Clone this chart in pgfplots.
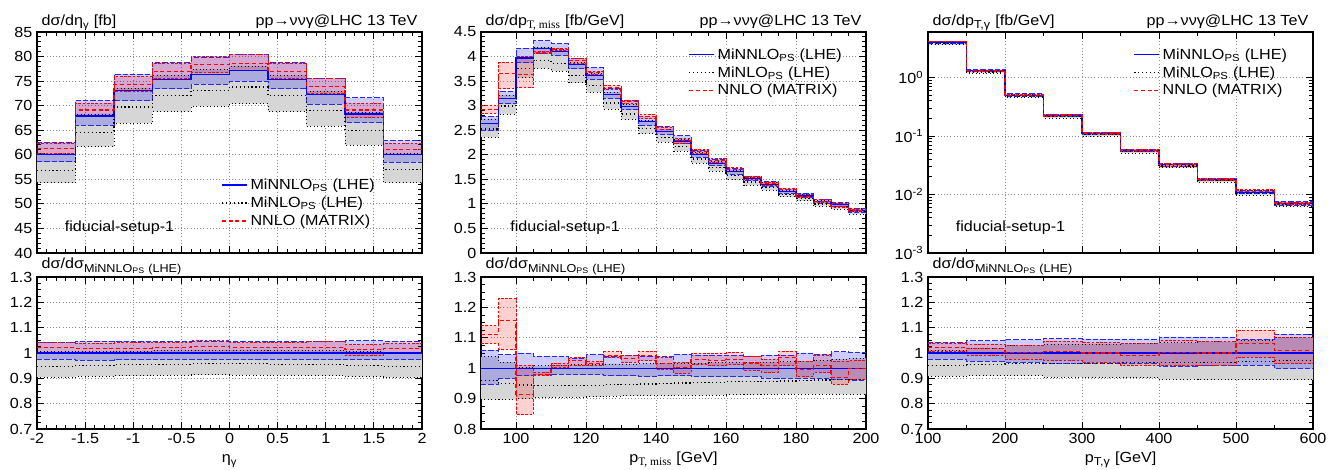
\documentclass[border=0pt]{standalone}
\usepackage{fontspec}
\setmainfont{Liberation Sans}[FakeStretch=1.1]
\newfontfamily\tms{Liberation Serif}
\usepackage{pgfplots}
\pgfplotsset{compat=1.18}
\usepackage{pgfplotstable}

\newcommand{\fs}{\fontsize{11pt}{13pt}\selectfont}
\newcommand{\sub}[1]{\textsubscript{\fontsize{8.6pt}{9pt}\selectfont #1}}

% columns: bin left edge, MiNNLO (c), MiNLO (n), NNLO MATRIX (r); last row closes the last bin
\pgfplotstableread{
x c clo chi n nlo nhi r rlo rhi
-2.0 60.0 58.56 62.52 56.82 54.30 60.30 61.32 60.24 62.40
-1.6 67.9 66.00 71.09 64.57 61.65 68.31 69.12 67.76 70.48
-1.2 73.0 71.03 76.43 69.72 66.43 73.58 74.31 72.93 75.92
-0.8 75.4 73.44 78.79 72.08 68.76 76.15 76.91 75.48 78.57
-0.4 76.4 74.41 79.84 73.11 69.83 77.32 78.31 76.71 80.07
0.0 77.1 75.02 80.49 73.78 70.39 78.03 78.64 77.10 80.34
0.4 75.4 73.44 78.79 72.01 68.76 76.15 76.98 75.55 78.64
0.8 72.3 70.35 75.48 69.05 65.87 72.95 73.89 72.52 75.48
1.2 68.3 66.52 71.58 65.02 61.95 68.71 69.12 67.55 70.49
1.6 60.1 58.54 62.86 56.97 54.33 60.28 61.12 60.04 62.26
2.0 60.1 58.54 62.86 56.97 54.33 60.28 61.12 60.04 62.26
}\etatop
% band outlines: lower edges left to right, then upper edges right to left
\pgfplotstableread{
x nb cb rb
-2.0 54.30 58.56 60.24
-1.6 61.65 66.00 67.76
-1.2 66.43 71.03 72.93
-0.8 68.76 73.44 75.48
-0.4 69.83 74.41 76.71
0.0 70.39 75.02 77.10
0.4 68.76 73.44 75.55
0.8 65.87 70.35 72.52
1.2 61.95 66.52 67.55
1.6 54.33 58.54 60.04
2.0 54.33 58.54 60.04
2.0 60.28 62.86 62.26
1.6 68.71 71.58 70.49
1.2 72.95 75.48 75.48
0.8 76.15 78.79 78.64
0.4 78.03 80.49 80.34
0.0 77.32 79.84 80.07
-0.4 76.15 78.79 78.57
-0.8 73.58 76.43 75.92
-1.2 68.31 71.09 70.48
-1.6 60.30 62.52 62.40
-2.0 60.30 62.52 62.40
}\etatopband
\pgfplotstableread{
x c clo chi n nlo nhi r rlo rhi
-2.0 1 0.976 1.042 0.947 0.905 1.005 1.022 1.004 1.040
-1.6 1 0.972 1.047 0.951 0.908 1.006 1.018 0.998 1.038
-1.2 1 0.973 1.047 0.955 0.910 1.008 1.018 0.999 1.040
-0.8 1 0.974 1.045 0.956 0.912 1.010 1.020 1.001 1.042
-0.4 1 0.974 1.045 0.957 0.914 1.012 1.025 1.004 1.048
0.0 1 0.973 1.044 0.957 0.913 1.012 1.020 1.000 1.042
0.4 1 0.974 1.045 0.955 0.912 1.010 1.021 1.002 1.043
0.8 1 0.973 1.044 0.955 0.911 1.009 1.022 1.003 1.044
1.2 1 0.974 1.048 0.952 0.907 1.006 1.012 0.989 1.032
1.6 1 0.974 1.046 0.948 0.904 1.003 1.017 0.999 1.036
2.0 1 0.974 1.046 0.948 0.904 1.003 1.017 0.999 1.036
}\etarat
\pgfplotstableread{
x nb cb rb
-2.0 0.905 0.976 1.004
-1.6 0.908 0.972 0.998
-1.2 0.910 0.973 0.999
-0.8 0.912 0.974 1.001
-0.4 0.914 0.974 1.004
0.0 0.913 0.973 1.000
0.4 0.912 0.974 1.002
0.8 0.911 0.973 1.003
1.2 0.907 0.974 0.989
1.6 0.904 0.974 0.999
2.0 0.904 0.974 0.999
2.0 1.003 1.046 1.036
1.6 1.006 1.048 1.032
1.2 1.009 1.044 1.044
0.8 1.010 1.045 1.043
0.4 1.012 1.044 1.042
0.0 1.012 1.045 1.048
-0.4 1.010 1.045 1.042
-0.8 1.008 1.047 1.040
-1.2 1.006 1.047 1.038
-1.6 1.005 1.042 1.040
-2.0 1.005 1.042 1.040
}\etaratband
\pgfplotstableread{
x c clo chi n nlo nhi r rlo rhi
90 2.63 2.493 2.788 2.525 2.359 2.730 2.919 2.840 2.998
95 3.15 3.043 3.289 2.993 2.826 3.213 3.648 3.348 3.871
100 3.97 3.871 4.169 3.752 3.573 3.978 3.629 3.363 4.006
105 4.16 4.068 4.322 3.919 3.756 4.193 4.077 4.056 4.098
110 4.10 4.022 4.260 3.862 3.706 4.141 4.141 4.116 4.162
115 3.83 3.750 3.956 3.612 3.466 3.876 3.926 3.868 3.960
120 3.61 3.534 3.769 3.408 3.271 3.653 3.668 3.639 3.689
125 3.23 3.149 3.359 3.056 2.933 3.275 3.369 3.340 3.404
130 2.99 2.915 3.113 2.832 2.718 3.032 3.086 3.050 3.113
135 2.67 2.595 2.777 2.531 2.430 2.710 2.779 2.737 2.820
140 2.48 2.418 2.577 2.356 2.257 2.517 2.520 2.468 2.564
145 2.28 2.223 2.385 2.168 2.077 2.316 2.285 2.241 2.326
150 2.01 1.954 2.096 1.914 1.831 2.044 2.066 2.032 2.108
155 1.83 1.779 1.905 1.744 1.669 1.863 1.876 1.845 1.922
160 1.65 1.604 1.718 1.576 1.506 1.680 1.700 1.668 1.734
165 1.51 1.468 1.569 1.444 1.379 1.539 1.536 1.499 1.569
170 1.40 1.355 1.460 1.340 1.280 1.428 1.413 1.382 1.442
175 1.25 1.210 1.304 1.198 1.144 1.276 1.294 1.260 1.320
180 1.16 1.123 1.218 1.114 1.061 1.188 1.157 1.128 1.187
185 1.04 1.005 1.088 0.999 0.952 1.067 1.050 1.026 1.084
190 0.98 0.945 1.033 0.943 0.896 1.009 0.951 0.929 1.004
195 0.87 0.836 0.915 0.839 0.795 0.898 0.870 0.839 0.893
200 0.87 0.836 0.915 0.839 0.795 0.898 0.870 0.839 0.893
}\misstop
\pgfplotstableread{
x nb cb rb
90 2.359 2.493 2.840
95 2.826 3.043 3.348
100 3.573 3.871 3.363
105 3.756 4.068 4.056
110 3.706 4.022 4.116
115 3.466 3.750 3.868
120 3.271 3.534 3.639
125 2.933 3.149 3.340
130 2.718 2.915 3.050
135 2.430 2.595 2.737
140 2.257 2.418 2.468
145 2.077 2.223 2.241
150 1.831 1.954 2.032
155 1.669 1.779 1.845
160 1.506 1.604 1.668
165 1.379 1.468 1.499
170 1.280 1.355 1.382
175 1.144 1.210 1.260
180 1.061 1.123 1.128
185 0.952 1.005 1.026
190 0.896 0.945 0.929
195 0.795 0.836 0.839
200 0.795 0.836 0.839
200 0.898 0.915 0.893
195 1.009 1.033 1.004
190 1.067 1.088 1.084
185 1.188 1.218 1.187
180 1.276 1.304 1.320
175 1.428 1.460 1.442
170 1.539 1.569 1.569
165 1.680 1.718 1.734
160 1.863 1.905 1.922
155 2.044 2.096 2.108
150 2.316 2.385 2.326
145 2.517 2.577 2.564
140 2.710 2.777 2.820
135 3.032 3.113 3.113
130 3.275 3.359 3.404
125 3.653 3.769 3.689
120 3.876 3.956 3.960
115 4.141 4.260 4.162
110 4.193 4.322 4.098
105 3.978 4.169 4.006
100 3.213 3.289 3.871
95 2.730 2.788 2.998
90 2.730 2.788 2.998
}\misstopband
\pgfplotstableread{
x c clo chi n nlo nhi r rlo rhi
90 1 0.948 1.060 0.960 0.897 1.038 1.110 1.080 1.140
95 1 0.966 1.044 0.950 0.897 1.020 1.158 1.063 1.229
100 1 0.975 1.050 0.945 0.900 1.002 0.914 0.847 1.009
105 1 0.978 1.039 0.942 0.903 1.008 0.980 0.975 0.985
110 1 0.981 1.039 0.942 0.904 1.010 1.010 1.004 1.015
115 1 0.979 1.033 0.943 0.905 1.012 1.025 1.010 1.034
120 1 0.979 1.044 0.944 0.906 1.012 1.016 1.008 1.022
125 1 0.975 1.040 0.946 0.908 1.014 1.043 1.034 1.054
130 1 0.975 1.041 0.947 0.909 1.014 1.032 1.020 1.041
135 1 0.972 1.040 0.948 0.910 1.015 1.041 1.025 1.056
140 1 0.975 1.039 0.950 0.910 1.015 1.016 0.995 1.034
145 1 0.975 1.046 0.951 0.911 1.016 1.002 0.983 1.020
150 1 0.972 1.043 0.952 0.911 1.017 1.028 1.011 1.049
155 1 0.972 1.041 0.953 0.912 1.018 1.025 1.008 1.050
160 1 0.972 1.041 0.955 0.913 1.018 1.030 1.011 1.051
165 1 0.972 1.039 0.956 0.913 1.019 1.017 0.993 1.039
170 1 0.968 1.043 0.957 0.914 1.020 1.009 0.987 1.030
175 1 0.968 1.043 0.958 0.915 1.021 1.035 1.008 1.056
180 1 0.968 1.050 0.960 0.915 1.024 0.997 0.972 1.023
185 1 0.966 1.046 0.961 0.915 1.026 1.010 0.987 1.042
190 1 0.964 1.054 0.962 0.914 1.030 0.970 0.948 1.024
195 1 0.961 1.052 0.964 0.914 1.032 1.000 0.964 1.026
200 1 0.961 1.052 0.964 0.914 1.032 1.000 0.964 1.026
}\missrat
\pgfplotstableread{
x nb cb rb
90 0.897 0.948 1.080
95 0.897 0.966 1.063
100 0.900 0.975 0.847
105 0.903 0.978 0.975
110 0.904 0.981 1.004
115 0.905 0.979 1.010
120 0.906 0.979 1.008
125 0.908 0.975 1.034
130 0.909 0.975 1.020
135 0.910 0.972 1.025
140 0.910 0.975 0.995
145 0.911 0.975 0.983
150 0.911 0.972 1.011
155 0.912 0.972 1.008
160 0.913 0.972 1.011
165 0.913 0.972 0.993
170 0.914 0.968 0.987
175 0.915 0.968 1.008
180 0.915 0.968 0.972
185 0.915 0.966 0.987
190 0.914 0.964 0.948
195 0.914 0.961 0.964
200 0.914 0.961 0.964
200 1.032 1.052 1.026
195 1.030 1.054 1.024
190 1.026 1.046 1.042
185 1.024 1.050 1.023
180 1.021 1.043 1.056
175 1.020 1.043 1.030
170 1.019 1.039 1.039
165 1.018 1.041 1.051
160 1.018 1.041 1.050
155 1.017 1.043 1.049
150 1.016 1.046 1.020
145 1.015 1.039 1.034
140 1.015 1.040 1.056
135 1.014 1.041 1.041
130 1.014 1.040 1.054
125 1.012 1.044 1.022
120 1.012 1.033 1.034
115 1.010 1.039 1.015
110 1.008 1.039 0.985
105 1.002 1.050 1.009
100 1.020 1.044 1.229
95 1.038 1.060 1.140
90 1.038 1.060 1.140
}\missratband
\pgfplotstableread{
x c clo chi n nlo nhi r rlo rhi
100 4.0 3.904 4.168 3.804 3.632 4.048 4.088 4.032 4.152
150 1.30 1.258 1.362 1.240 1.184 1.326 1.3208 1.2896 1.3442
200 0.50 0.482 0.526 0.4785 0.4555 0.515 0.5015 0.4875 0.515
250 0.225 0.216 0.2376 0.216 0.2036 0.2327 0.2261 0.2185 0.2351
300 0.110 0.1056 0.1161 0.1056 0.0993 0.1139 0.110 0.1059 0.1144
350 0.057 0.0547 0.0601 0.05483 0.05141 0.05911 0.05643 0.05421 0.05917
400 0.032 0.03034 0.03402 0.03082 0.02864 0.03328 0.0321 0.03043 0.0336
450 0.018 0.0171 0.01913 0.01733 0.01609 0.01881 0.018 0.01714 0.01883
500 0.011 0.01047 0.01161 0.010615 0.009834 0.01155 0.011407 0.010824 0.01199
550 0.0070 0.006566 0.007525 0.006797 0.006258 0.00742 0.007063 0.006699 0.007434
600 0.0070 0.006566 0.007525 0.006797 0.006258 0.00742 0.007063 0.006699 0.007434
}\pttop
\pgfplotstableread{
x nb cb rb
100 3.632 3.904 4.032
150 1.184 1.258 1.2896
200 0.4555 0.482 0.4875
250 0.2036 0.216 0.2185
300 0.0993 0.1056 0.1059
350 0.05141 0.0547 0.05421
400 0.02864 0.03034 0.03043
450 0.01609 0.0171 0.01714
500 0.009834 0.01047 0.010824
550 0.006258 0.006566 0.006699
600 0.006258 0.006566 0.006699
600 0.00742 0.007525 0.007434
550 0.01155 0.01161 0.01199
500 0.01881 0.01913 0.01883
450 0.03328 0.03402 0.0336
400 0.05911 0.0601 0.05917
350 0.1139 0.1161 0.1144
300 0.2327 0.2376 0.2351
250 0.515 0.526 0.515
200 1.326 1.362 1.3442
150 4.048 4.168 4.152
100 4.048 4.168 4.152
}\pttopband
\pgfplotstableread{
x c clo chi n nlo nhi r rlo rhi
100 1 0.976 1.042 0.951 0.908 1.012 1.022 1.008 1.038
150 1 0.968 1.048 0.954 0.911 1.020 1.016 0.992 1.034
200 1 0.964 1.052 0.957 0.911 1.030 1.003 0.975 1.030
250 1 0.960 1.056 0.960 0.905 1.034 1.005 0.971 1.045
300 1 0.960 1.055 0.960 0.903 1.035 1.000 0.963 1.040
350 1 0.960 1.054 0.962 0.902 1.037 0.990 0.951 1.038
400 1 0.948 1.063 0.963 0.895 1.040 1.003 0.951 1.050
450 1 0.950 1.063 0.963 0.894 1.045 1.000 0.952 1.046
500 1 0.952 1.055 0.965 0.894 1.050 1.037 0.984 1.090
550 1 0.938 1.075 0.971 0.894 1.060 1.009 0.957 1.062
600 1 0.938 1.075 0.971 0.894 1.060 1.009 0.957 1.062
}\ptrat
\pgfplotstableread{
x nb cb rb
100 0.908 0.976 1.008
150 0.911 0.968 0.992
200 0.911 0.964 0.975
250 0.905 0.960 0.971
300 0.903 0.960 0.963
350 0.902 0.960 0.951
400 0.895 0.948 0.951
450 0.894 0.950 0.952
500 0.894 0.952 0.984
550 0.894 0.938 0.957
600 0.894 0.938 0.957
600 1.060 1.075 1.062
550 1.050 1.055 1.090
500 1.045 1.063 1.046
450 1.040 1.063 1.050
400 1.037 1.054 1.038
350 1.035 1.055 1.040
300 1.034 1.056 1.045
250 1.030 1.052 1.030
200 1.020 1.048 1.034
150 1.012 1.042 1.038
100 1.012 1.042 1.038
}\ptratband

\tikzset{
  bandN/.style={black, dotted, line width=0.6pt},
  bandC/.style={blue!85, dash pattern=on 4pt off 1.5pt, line width=0.6pt},
  bandR/.style={red, dash pattern=on 2pt off 1.2pt, line width=0.6pt},
  lineC/.style={blue, line width=0.8pt},
  lineN/.style={black, dotted, line width=0.9pt},
  lineR/.style={red, dash pattern=on 3pt off 2pt, line width=0.8pt},
}
\pgfplotsset{
  shortleg/.style={legend image code/.code={\draw[#1, line width=1pt] (0cm,0cm) -- (0.66cm,0cm);}},
}

% #1: central values and band edges, #2: band outlines
\newcommand{\histset}[2]{%
  \addplot[fill=black!16, draw=none, const plot mark left, forget plot] table[x=x,y=nb]{#2};
  \addplot[fill=blue, fill opacity=0.2, draw=none, const plot mark left, forget plot] table[x=x,y=cb]{#2};
  \addplot[fill=red, fill opacity=0.18, draw=none, const plot mark left, forget plot] table[x=x,y=rb]{#2};
  \addplot[bandN, const plot mark left, forget plot] table[x=x,y=nlo]{#1};
  \addplot[bandN, const plot mark left, forget plot] table[x=x,y=nhi]{#1};
  \addplot[bandC, const plot mark left, forget plot] table[x=x,y=clo]{#1};
  \addplot[bandC, const plot mark left, forget plot] table[x=x,y=chi]{#1};
  \addplot[bandR, const plot mark left, forget plot] table[x=x,y=rlo]{#1};
  \addplot[bandR, const plot mark left, forget plot] table[x=x,y=rhi]{#1};
  \addplot[lineN, const plot mark left, forget plot] table[x=x,y=n]{#1};
  \addplot[lineC, const plot mark left, forget plot] table[x=x,y=c]{#1};
  \addplot[lineR, const plot mark left, forget plot] table[x=x,y=r]{#1};
}

\newcommand{\legendset}{%
  \addlegendimage{lineC, shortleg}
  \addlegendentry{MiNNLO\textsubscript{PS} (LHE)}
  \addlegendimage{lineN, shortleg}
  \addlegendentry{MiNLO\textsubscript{PS} (LHE)}
  \addlegendimage{lineR, shortleg}
  \addlegendentry{NNLO (MATRIX)}
}

\pgfplotsset{
  panel/.style={
    scale only axis, width=288.75pt, anchor=south west,
    axis line style={line width=1.1pt},
    every tick/.style={black, line width=0.7pt},
    major tick length=5pt, minor tick length=3pt,
    grid=major, major grid style={dotted, black!45, line width=0.6pt},
    tick label style={font=\fs},
    /pgf/number format/assume math mode=true,
    legend style={draw=none, fill=none, font=\fs, row sep=0pt,
      inner sep=1pt, cells={anchor=west}},
  },
  toppanel/.style={panel, height=165.75pt, xticklabels={}},
  ratpanel/.style={panel, height=114pt, minor y tick num=3},
}

\begin{document}
\begin{tikzpicture}
\path[use as bounding box] (0,0) rectangle (1003.5pt,352.5pt);

% ---- eta_gamma ----
\begin{axis}[toppanel, at={(27.75pt,162.75pt)}, xmin=-2, xmax=2, ymin=40, ymax=85,
    xtick={-2,-1.5,...,2}, ytick={40,45,...,85}, minor x tick num=4, minor y tick num=4,
    legend style={at={(0.475,0.355)}, anchor=north west}]
  \legendset
  \histset{\etatop}{\etatopband}
  \node[anchor=base west, font=\fs] at (rel axis cs:0.06,0.096) {fiducial-setup-1};
\end{axis}
\begin{axis}[ratpanel, at={(27.75pt,30.75pt)}, xmin=-2, xmax=2, ymin=0.7, ymax=1.3,
    xtick={-2,-1.5,...,2}, minor x tick num=4, ytick={0.7,0.8,...,1.3}]
  \histset{\etarat}{\etaratband}
\end{axis}

% ---- pT,miss ----
\begin{axis}[toppanel, at={(360.75pt,162.75pt)}, xmin=90, xmax=200, ymin=0, ymax=4.5,
    xtick={100,120,...,200}, minor x tick num=3, ytick={0,0.5,...,4.5}, minor y tick num=4,
    legend style={at={(0.535,0.945)}, anchor=north west}]
  \legendset
  \histset{\misstop}{\misstopband}
  \node[anchor=base west, font=\fs] at (rel axis cs:0.064,0.096) {fiducial-setup-1};
\end{axis}
\begin{axis}[ratpanel, at={(360.75pt,30.75pt)}, xmin=90, xmax=200, ymin=0.8, ymax=1.3,
    xtick={100,120,...,200}, minor x tick num=3, ytick={0.8,0.9,...,1.3}]
  \histset{\missrat}{\missratband}
\end{axis}

% ---- pT,gamma ----
\begin{axis}[toppanel, at={(696pt,162.75pt)}, xmin=100, xmax=600, ymode=log,
    ymin=0.001, ymax=6, xtick={100,200,...,600}, minor x tick num=1,
    ytick={0.001,0.01,0.1,1},
    yticklabels={10\textsuperscript{-3},10\textsuperscript{-2},10\textsuperscript{-1},10\textsuperscript{0}},
    legend style={at={(0.53,0.945)}, anchor=north west}]
  \legendset
  \histset{\pttop}{\pttopband}
  \node[anchor=base west, font=\fs] at (rel axis cs:0.06,0.096) {fiducial-setup-1};
\end{axis}
\begin{axis}[ratpanel, at={(696pt,30.75pt)}, xmin=100, xmax=600, ymin=0.7, ymax=1.3,
    xtick={100,200,...,600}, minor x tick num=1, ytick={0.7,0.8,...,1.3}]
  \histset{\ptrat}{\ptratband}
\end{axis}

% ---- labels ----
\begin{scope}[every node/.style={font=\fs}]
  \node[anchor=base west] at (27.75pt,333pt) {dσ/dη\textsubscript{γ} [fb]};
  \node[anchor=base east] at (316.5pt,333pt) {pp→ννγ@LHC 13 TeV};
  \node[anchor=base west] at (360.75pt,333pt) {dσ/dp\sub{\tms T, miss} [fb/GeV]};
  \node[anchor=base east] at (649.5pt,333pt) {pp→ννγ@LHC 13 TeV};
  \node[anchor=base west] at (696pt,333pt) {dσ/dp\sub{T,γ} [fb/GeV]};
  \node[anchor=base east] at (984.75pt,333pt) {pp→ννγ@LHC 13 TeV};
  \foreach \x in {27.75pt,360.75pt,696pt}
    \node[anchor=base west] at (\x,150.75pt) {dσ/dσ\sub{MiNNLO\textsubscript{PS} (LHE)}};
  \node[anchor=base] at (172.1pt,5.25pt) {η\textsubscript{γ}};
  \node[anchor=base] at (505.1pt,5.25pt) {p\sub{\tms T, miss} [GeV]};
  \node[anchor=base] at (840.4pt,5.25pt) {p\sub{T,γ} [GeV]};
\end{scope}
\end{tikzpicture}
\end{document}
